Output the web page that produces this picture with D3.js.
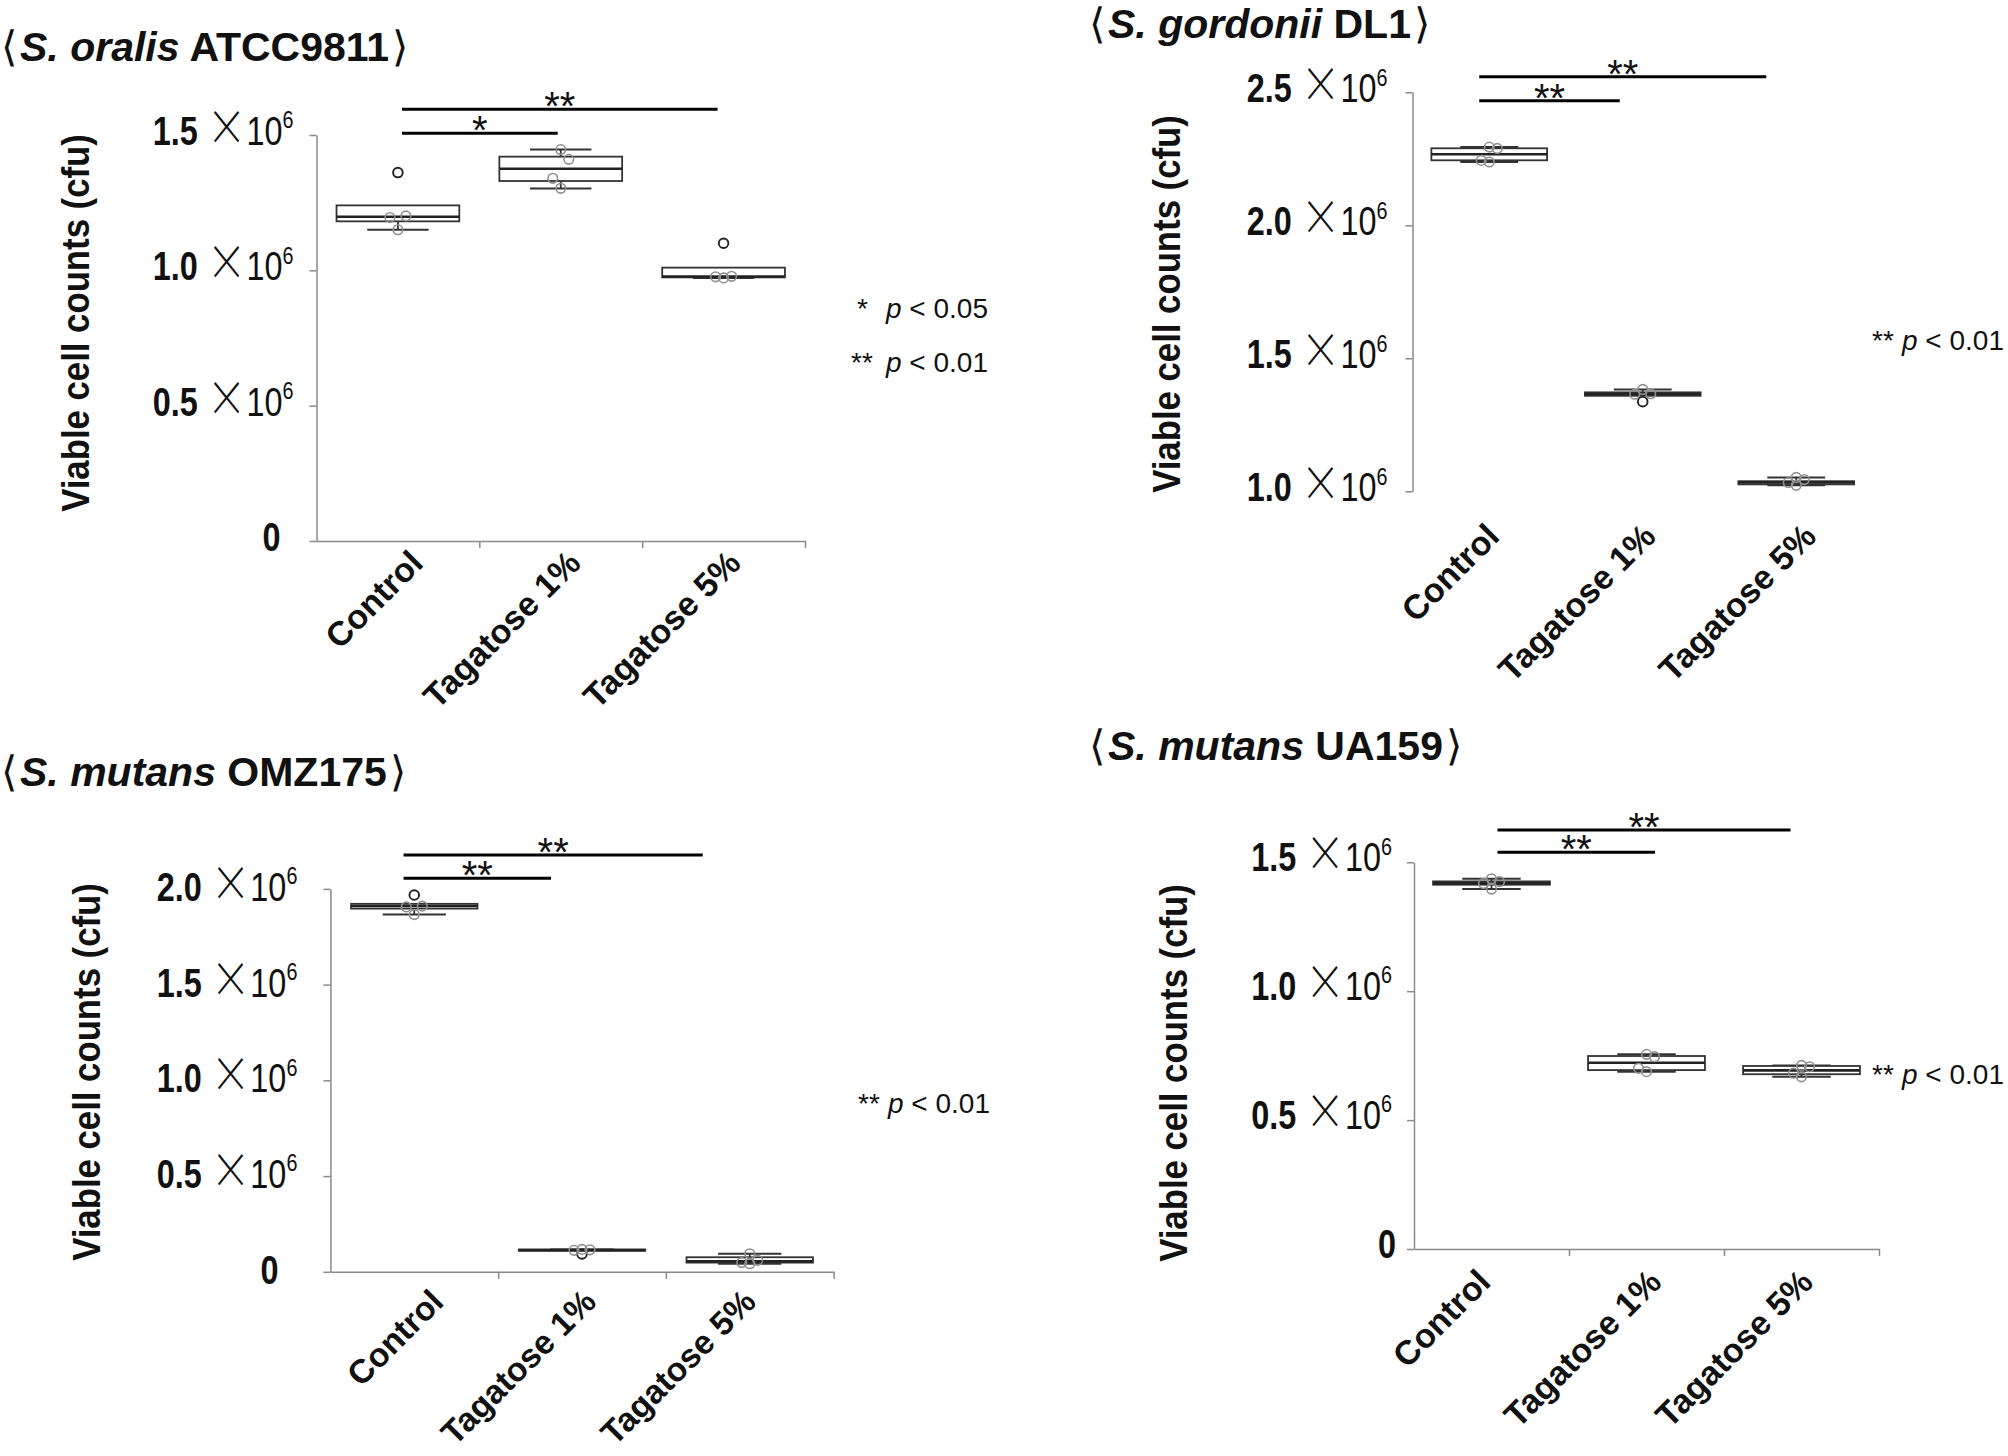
<!DOCTYPE html>
<html><head><meta charset="utf-8">
<script src="https://cdn.jsdelivr.net/npm/d3@7/dist/d3.min.js"></script>
<style>
body{margin:0;background:#fff}
svg{display:block}
text{font-family:"Liberation Sans",Arial,sans-serif;fill:#111}
</style>
</head><body>
<svg id="chart" width="2008" height="1456"></svg>
<script>
// ---------------- DATA (values in units of 10^6 cfu) ----------------
const categories = ["Control", "Tagatose 1%", "Tagatose 5%"];
const panelSpecies = ["S. oralis", "S. gordonii", "S. mutans", "S. mutans"];
const panelStrains = ["ATCC9811", "DL1", "OMZ175", "UA159"];
const yAxisTitle = "Viable cell counts (cfu)";

const ticksOralis   = [0, 0.5, 1.0, 1.5];
const ticksGordonii = [1.0, 1.5, 2.0, 2.5];
const ticksOMZ175   = [0, 0.5, 1.0, 1.5, 2.0];
const ticksUA159    = [0, 0.5, 1.0, 1.5];

// individual observations per group
const pointsOralis   = [[1.150, 1.195, 1.201, 1.361], [1.303, 1.340, 1.410, 1.446], [0.972, 0.976, 0.978, 1.100]];
const pointsGordonii = [[2.238, 2.244, 2.289, 2.294], [1.337, 1.365, 1.367, 1.383], [1.023, 1.033, 1.044, 1.052]];
const pointsOMZ175   = [[1.866, 1.906, 1.910, 1.968], [0.093, 0.112, 0.115, 0.117], [0.042, 0.048, 0.060, 0.094]];
const pointsUA159    = [[1.396, 1.418, 1.425, 1.436], [0.688, 0.701, 0.746, 0.755], [0.668, 0.682, 0.707, 0.712]];

// box statistics per group: [lower whisker, Q1, median, Q3, upper whisker]
const boxesOralis   = [[1.150, 1.181, 1.198, 1.240, 1.240], [1.302, 1.330, 1.3755, 1.420, 1.446], [0.972, 0.974, 0.977, 1.010, 1.010]];
const boxesGordonii = [[2.238, 2.2444, 2.267, 2.2895, 2.294], [1.359, 1.359, 1.366, 1.372, 1.383], [1.023, 1.026, 1.033, 1.038, 1.052]];
const boxesOMZ175   = [[1.866, 1.897, 1.9105, 1.922, 1.922], [0.110, 0.110, 0.113, 0.116, 0.117], [0.042, 0.048, 0.055, 0.076, 0.094]];
const boxesUA159    = [[1.396, 1.413, 1.4185, 1.426, 1.436], [0.688, 0.694, 0.7226, 0.7486, 0.755], [0.668, 0.678, 0.693, 0.710, 0.712]];

// significance brackets: [from group, to group, label]
const sigOralis = [[0, 2, "**"], [0, 1, "*"]];
const sigOthers = [[0, 2, "**"], [0, 1, "**"]];

const legendOralis = [["*", "0.05"], ["**", "0.01"]];
const legendOthers = [["**", "0.01"]];

// ---------------- LAYOUT ----------------
const panels = [
  {species: panelSpecies[0], strain: panelStrains[0], ticks: ticksOralis, points: pointsOralis, boxes: boxesOralis, sig: sigOralis, legend: legendOralis,
   axisX: 316.5, xEnd: 805, yTop: 135, yBottom: 541, domain: [0, 1.5], xAxis: true,
   tickGap: 23, tickDy: 10, zeroShift: -13, yTitleX: 89, yTitleY: 323, titleX: 1, titleY: 61,
   labDx: [27, 22, 19], labDy: 24, labFont: 34, bars: [{y: 109.3, d0: 4, d1: -6}, {y: 133.3, d0: 4, d1: -3}],
   leg: [{sx: 857, px: 886, y: 318}, {sx: 851, px: 886, y: 372}]},
  {species: panelSpecies[1], strain: panelStrains[1], ticks: ticksGordonii, points: pointsGordonii, boxes: boxesGordonii, sig: sigOthers, legend: legendOthers,
   axisX: 1412.5, xEnd: 1873, yTop: 92.3, yBottom: 491.3, domain: [1.0, 2.5], xAxis: false,
   tickGap: 25, tickDy: 10, zeroShift: 0, yTitleX: 1180, yTitleY: 304, titleX: 1089, titleY: 38,
   labDx: [12, 15, 22], labDy: 47, labFont: 34, bars: [{y: 76.7, d0: -10, d1: -30}, {y: 100.7, d0: -10, d1: -23}],
   leg: [{sx: 1872, px: 1902, y: 350}]},
  {species: panelSpecies[2], strain: panelStrains[2], ticks: ticksOMZ175, points: pointsOMZ175, boxes: boxesOMZ175, sig: sigOthers, legend: legendOthers,
   axisX: 330.4, xEnd: 833.6, yTop: 888.9, yBottom: 1271.8, domain: [0, 2.0], xAxis: true,
   tickGap: 33, tickDy: 12, zeroShift: -19, yTitleX: 100, yTitleY: 1072, titleX: 1, titleY: 786,
   labDx: [31, 16, 8], labDy: 32, labFont: 33.5, bars: [{y: 855, d0: -10.7, d1: -47}, {y: 878.2, d0: -10.7, d1: -31}],
   leg: [{sx: 858, px: 888, y: 1113}]},
  {species: panelSpecies[3], strain: panelStrains[3], ticks: ticksUA159, points: pointsUA159, boxes: boxesUA159, sig: sigOthers, legend: legendOthers,
   axisX: 1414, xEnd: 1879, yTop: 862.3, yBottom: 1249, domain: [0, 1.5], xAxis: true,
   tickGap: 22, tickDy: 9, zeroShift: 4, yTitleX: 1187, yTitleY: 1073, titleX: 1089, titleY: 760,
   labDx: [1, 17, 13.5], labDy: 35, labFont: 34, bars: [{y: 830, d0: 6, d1: -11}, {y: 852.3, d0: 6, d1: 8.5}],
   leg: [{sx: 1872, px: 1902, y: 1084}]}
];

const AXIS_COLOR = "#8a8a8a";
const BOX_COLOR = "#333";
const jitter = [0, -8, 8, 0];
const svg = d3.select("#chart");

panels.forEach(p => {
  const g = svg.append("g");
  const x = d3.scaleBand().domain(categories).range([p.axisX, p.xEnd]).paddingInner(0).paddingOuter(0);
  const y = d3.scaleLinear().domain(p.domain).range([p.yBottom, p.yTop]);
  const bw = x.bandwidth();
  const boxW = bw * 0.754;
  const capW = boxW * 0.5;
  const cx = c => x(c) + bw / 2;

  // title
  const t = g.append("text").attr("x", p.titleX).attr("y", p.titleY).style("font-size", "41px");
  t.append("tspan").text("⟨").style("font-family", "'DejaVu Sans'").style("font-weight", 200).style("font-size", "42px");
  t.append("tspan").text(p.species).attr("dx", 3).style("font-weight", "bold").style("font-style", "italic");
  t.append("tspan").text(" " + p.strain).style("font-weight", "bold");
  t.append("tspan").text("⟩").attr("dx", 3).style("font-family", "'DejaVu Sans'").style("font-weight", 200).style("font-size", "42px");

  // y axis
  const yAxis = d3.axisLeft(y).tickValues(p.ticks).tickSize(7).tickSizeOuter(0).tickFormat("");
  const ya = g.append("g").attr("transform", `translate(${p.axisX},0)`).call(yAxis);
  ya.selectAll("path,line").attr("stroke", AXIS_COLOR).attr("stroke-width", 1.5);

  // y tick labels
  p.ticks.forEach(v => {
    const isZero = v === 0;
    const lx = p.axisX - p.tickGap + (isZero ? p.zeroShift : 0);
    const tx = g.append("text").attr("transform", `translate(${lx},${y(v) + p.tickDy}) scale(0.9,1.12)`)
      .attr("text-anchor", "end").style("font-size", "36px");
    tx.append("tspan").text(isZero ? "0" : v.toFixed(1)).style("font-weight", "bold");
    if (!isZero) {
      tx.append("tspan").text(" ");
      tx.append("tspan").text("×").style("font-family", "'Noto Sans CJK JP'").style("font-weight", 200).style("font-size", "44px");
      tx.append("tspan").text("10").style("font-size", "36px");
      tx.append("tspan").text("6").attr("dy", -15).style("font-size", "22px");
    }
  });

  // x axis
  if (p.xAxis) {
    const xl = d3.scaleLinear().domain([0, categories.length]).range([p.axisX, p.xEnd]);
    const xAxis = d3.axisBottom(xl).tickValues(d3.range(1, categories.length + 1)).tickSize(7).tickSizeOuter(0).tickFormat("");
    const xa = g.append("g").attr("transform", `translate(0,${p.yBottom})`).call(xAxis);
    xa.selectAll("path,line").attr("stroke", AXIS_COLOR).attr("stroke-width", 1.5);
  }

  // x category labels
  categories.forEach((c, i) => {
    const lx = cx(c) + p.labDx[i], ly = p.yBottom + p.labDy;
    g.append("text").attr("transform", `translate(${lx},${ly}) rotate(-45)`)
      .attr("text-anchor", "end").style("font-size", p.labFont + "px").style("font-weight", "bold").text(c);
  });

  // y axis title
  g.append("text").attr("transform", `translate(${p.yTitleX},${p.yTitleY}) rotate(-90) scale(0.965,1.06)`)
    .attr("text-anchor", "middle").style("font-size", "36px").style("font-weight", "bold").text(yAxisTitle);

  // boxes
  p.boxes.forEach((b, i) => {
    const c = categories[i], xc = cx(c);
    const [lo, q1, med, q3, hi] = b;
    const bg = g.append("g");
    if (hi > q3) {
      bg.append("line").attr("x1", xc).attr("x2", xc).attr("y1", y(q3)).attr("y2", y(hi)).attr("stroke", BOX_COLOR).attr("stroke-width", 1.8);
      bg.append("line").attr("x1", xc - capW / 2).attr("x2", xc + capW / 2).attr("y1", y(hi)).attr("y2", y(hi)).attr("stroke", BOX_COLOR).attr("stroke-width", 2);
    }
    if (lo < q1) {
      bg.append("line").attr("x1", xc).attr("x2", xc).attr("y1", y(q1)).attr("y2", y(lo)).attr("stroke", BOX_COLOR).attr("stroke-width", 1.8);
      bg.append("line").attr("x1", xc - capW / 2).attr("x2", xc + capW / 2).attr("y1", y(lo)).attr("y2", y(lo)).attr("stroke", BOX_COLOR).attr("stroke-width", 2);
    }
    bg.append("rect").attr("x", xc - boxW / 2).attr("width", boxW)
      .attr("y", y(q3)).attr("height", Math.max(0.5, y(q1) - y(q3)))
      .attr("fill", "#fff").attr("stroke", BOX_COLOR).attr("stroke-width", 1.8);
    bg.append("line").attr("x1", xc - boxW / 2).attr("x2", xc + boxW / 2).attr("y1", y(med)).attr("y2", y(med))
      .attr("stroke", "#222").attr("stroke-width", 2.6);
  });

  // points
  p.points.forEach((pts, i) => {
    const c = categories[i], xc = cx(c);
    const [lo, , , , hi] = p.boxes[i];
    pts.forEach((v, j) => {
      const out = v < lo - 1e-9 || v > hi + 1e-9;
      g.append("circle").attr("cx", xc + (out ? 0 : jitter[j])).attr("cy", y(v)).attr("r", 4.8)
        .attr("fill", "none").attr("stroke", out ? "#222" : "#8f8f8f").attr("stroke-width", out ? 1.9 : 1.6);
    });
  });

  // significance bars
  p.sig.forEach((s, k) => {
    const bar = p.bars[k];
    const x1 = cx(categories[s[0]]) + bar.d0;
    const x2 = cx(categories[s[1]]) + bar.d1;
    g.append("line").attr("x1", x1).attr("x2", x2).attr("y1", bar.y).attr("y2", bar.y)
      .attr("stroke", "#000").attr("stroke-width", 3);
    g.append("text").attr("x", (x1 + x2) / 2).attr("y", bar.y + 11).attr("text-anchor", "middle")
      .style("font-size", "40px").text(s[2]);
  });

  // legend
  p.legend.forEach((l, k) => {
    const pos = p.leg[k];
    g.append("text").attr("x", pos.sx).attr("y", pos.y).style("font-size", "28px").text(l[0]);
    const lt = g.append("text").attr("x", pos.px).attr("y", pos.y).style("font-size", "28px");
    lt.append("tspan").text("p").style("font-style", "italic");
    lt.append("tspan").text(" < " + l[1]);
  });
});
</script>
</body></html>
